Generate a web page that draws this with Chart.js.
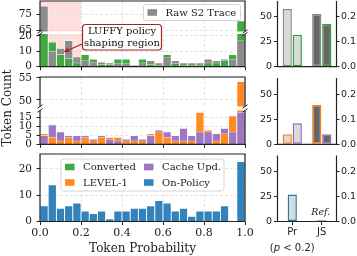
<!DOCTYPE html>
<html>
<head>
<meta charset="utf-8">
<script src="https://cdn.jsdelivr.net/npm/chart.js@4.4.1/dist/chart.umd.min.js"></script>
<style>
  html, body { margin: 0; padding: 0; background: #fff; }
  #wrap { position: relative; width: 357px; height: 256px; overflow: hidden; }
  #wrap canvas { position: absolute; left: 0; top: 0; }
  .ylab { position: absolute; z-index: 10; font: 10.5px "DejaVu Serif"; line-height: 12px; color: #222; text-align: right; white-space: nowrap; }
</style>
</head>
<body>
<div id="wrap"></div>
<script>
// ====== data (25 probability bins, width 0.04)
const BIN_WIDTH = 0.04;
const rawS2     = [80, 10, 12, 17, 6.5, 4, 3, 3, 2.5, 2, 2, 1, 2.5, 4, 2.5, 6, 4, 2.5, 2.5, 2.5, 5, 4, 5, 5, 17];
const converted = [26, 16, 8, 5.5, 2.5, 8, 5, 1.5, 1.5, 5, 5, 0.5, 5, 1.5, 1, 8, 2, 1, 1, 1, 2.5, 2.5, 4, 8, 71];
const level1    = [6, 4, 2, 4, 2, 4, 2, 4, 4, 4, 2, 2, 2, 6, 7, 4, 2, 2, 2, 18, 8, 2, 6, 16, 54];
const cacheUpd  = [5, 11, 7, 5, 5, 5, 3, 5, 3, 2, 3, 5, 3, 5, 8, 7, 5, 9, 5, 7, 7, 6, 9, 7, 18];
const onPolicy  = [6, 14, 5, 6, 7, 4, 3, 4, 1, 4, 4, 5, 5, 6, 8, 7, 4, 5, 2, 4, 4, 4, 6, 0, 22.8];
const probTicks = [0, 0.2, 0.4, 0.6, 0.8, 1.0];
const midUpperTicks = [50, 55];
const shapingRegion = [0, 0.2];

// right-hand summary panels (left axis units; right axis = left / 250)
const statCategories = ["Pr", "JS"];
const statRawS2     = [58, 53];
const statConverted = [32, 43];
const statLevel1    = [10, 39];
const statCacheUpd  = [21, 10];
const statOnPolicy  = [27, 1.2];
const statTicks      = [0, 25, 50];
const statTicksRight = [0, 0.1, 0.2];
const STAT_RATIO = 250;
const STAT_MAX = 66;

// ====== style
const W = 357, H = 256;
const PLOT_L = 40, PLOT_R = 245;
const STAT_L = 277.5, STAT_R = 336.5;
const STAT_YW = 30;
const TICK_LEN = 3.5, Y_PAD = 4.5;
const INK = "#222222";
const GRID = "#dadada";
const SERIF = "DejaVu Serif";
const SANS = "DejaVu Sans";
const C = {
  gray: "#8c8c8c", green: "#41a941", orange: "#ff8a22",
  purple: "#9e77c3", blue: "#3282bb",
};
const statFill = ["#d9d9d9", "#666666"];

const binCenters = rawS2.map((_, i) => BIN_WIDTH * (i + 0.5));

// ====== plugins
// fix the size of an axis box so every panel lines up
const fitBox = (size) => (s) => {
  if (s.isHorizontal()) s.height = size; else s.width = size;
  s.paddingTop = s.paddingBottom = s.paddingLeft = s.paddingRight = 0;
};

const framePlugin = {
  id: "frame",
  afterDatasetsDraw(chart, _args, opts) {
    const { ctx, chartArea: a } = chart;
    const sides = opts.sides || "";
    ctx.save();
    ctx.strokeStyle = INK;
    ctx.lineWidth = 1.2;
    ctx.beginPath();
    if (sides.includes("t")) { ctx.moveTo(a.left - 0.6, a.top); ctx.lineTo(a.right + 0.6, a.top); }
    if (sides.includes("b")) { ctx.moveTo(a.left - 0.6, a.bottom); ctx.lineTo(a.right + 0.6, a.bottom); }
    if (sides.includes("l")) { ctx.moveTo(a.left, a.top); ctx.lineTo(a.left, a.bottom); }
    if (sides.includes("r")) { ctx.moveTo(a.right, a.top); ctx.lineTo(a.right, a.bottom); }
    ctx.stroke();
    // broken-axis marks
    const ys = [];
    if (opts.breakTop) ys.push(a.top);
    if (opts.breakBottom) ys.push(a.bottom);
    ctx.lineWidth = 1;
    ys.forEach((y) => [a.left, a.right].forEach((x) => {
      ctx.beginPath();
      ctx.moveTo(x - 2.5, y + 1.8);
      ctx.lineTo(x + 2.5, y - 1.8);
      ctx.stroke();
    }));
    ctx.restore();
  },
};

const spanPlugin = {
  id: "span",
  beforeDraw(chart, _args, opts) {
    if (!opts.on) return;
    const { ctx, chartArea: a, scales: { x } } = chart;
    const x0 = x.getPixelForValue(shapingRegion[0]);
    const x1 = x.getPixelForValue(shapingRegion[1]);
    ctx.save();
    ctx.fillStyle = "rgba(255,0,0,0.13)";
    ctx.fillRect(x0, a.top, x1 - x0, a.bottom - a.top);
    ctx.restore();
  },
};

function drawLegend(ctx, box, entries) {
  ctx.save();
  ctx.beginPath();
  ctx.roundRect(box.x, box.y, box.w, box.h, 2.5);
  ctx.fillStyle = "rgba(255,255,255,0.85)";
  ctx.fill();
  ctx.strokeStyle = "#cccccc";
  ctx.lineWidth = 0.8;
  ctx.stroke();
  ctx.font = `10px ${SERIF}`;
  ctx.textBaseline = "middle";
  ctx.textAlign = "left";
  entries.forEach((e) => {
    ctx.fillStyle = e.color;
    ctx.fillRect(e.x, e.y - 3.3, 9.5, 6.6);
    ctx.fillStyle = INK;
    ctx.fillText(e.label, e.x + 18, e.y + 0.5);
  });
  ctx.restore();
}

// overlapping bars: the taller bar of each bin behind, the shorter in front
function overlapSets(a, colA, b, colB) {
  const common = {
    grouped: false, categoryPercentage: 1, barPercentage: 1, clip: 0,
    borderColor: "rgba(255,255,255,0.6)", borderWidth: 0.8,
  };
  return [
    { ...common, order: 1,
      data: a.map((v, i) => ({ x: binCenters[i], y: Math.min(v, b[i]) })),
      backgroundColor: a.map((v, i) => (v >= b[i] ? colB : colA)) },
    { ...common, order: 2,
      data: a.map((v, i) => ({ x: binCenters[i], y: Math.max(v, b[i]) })),
      backgroundColor: a.map((v, i) => (v >= b[i] ? colA : colB)) },
  ];
}

const wrap = document.getElementById("wrap");
function makeCanvas() {
  const c = document.createElement("canvas");
  c.width = W; c.height = H;
  c.style.width = W + "px"; c.style.height = H + "px";
  wrap.appendChild(c);
  return c;
}

function leftChart(part) {
  const gridOpts = (ticks) => ({
    offset: false, color: GRID, lineWidth: 0.8, drawTicks: ticks,
    tickLength: TICK_LEN, tickColor: INK, tickWidth: 1,
  });
  const xh = part.xLabels ? H - part.bottom : 0;
  return new Chart(makeCanvas(), {
    type: "bar",
    data: { datasets: part.datasets },
    options: {
      responsive: false, animation: false, devicePixelRatio: 1,
      layout: { padding: { left: 0, right: W - PLOT_R, top: part.top, bottom: H - part.bottom - xh } },
      plugins: {
        legend: { display: false }, tooltip: { enabled: false },
        frame: { sides: part.sides, breakTop: !!part.breakTop, breakBottom: !!part.breakBottom },
        span: { on: !!part.span },
      },
      scales: {
        x: {
          type: "linear", min: 0, max: 1, offset: false,
          grid: gridOpts(!!part.xTicks),
          border: { display: false, dash: [3, 2] },
          ticks: {
            display: !!part.xLabels, padding: 2, color: INK, autoSkip: false, maxRotation: 0,
            font: { family: SERIF, size: 11 }, callback: (v) => Number(v).toFixed(1),
          },
          afterBuildTicks: (s) => { s.ticks = probTicks.map((value) => ({ value })); },
          afterFit: fitBox(xh),
        },
        y: {
          type: "linear", min: part.yMin, max: part.yMax,
          grid: gridOpts(true),
          border: { display: false, dash: [3, 2] },
          ticks: {
            display: !part.hideYLabels, padding: Y_PAD, color: INK, autoSkip: false,
            font: { family: SERIF, size: 10.5 }, callback: (v) => String(v),
          },
          afterBuildTicks: (s) => { s.ticks = part.yTicks.map((value) => ({ value })); },
          afterFit: fitBox(PLOT_L),
        },
      },
    },
    plugins: [spanPlugin, framePlugin].concat(part.notes ? [{ id: "notes", afterDraw: (c) => part.notes(c.ctx, c) }] : []),
  });
}

function statChart(part) {
  const tickGrid = (show) => ({
    display: true, drawOnChartArea: false, drawTicks: show, offset: false,
    tickLength: TICK_LEN, tickColor: INK, tickWidth: 1, color: INK,
  });
  const xh = part.xLabels ? H - part.bottom : 0;
  return new Chart(makeCanvas(), {
    type: "bar",
    data: { labels: statCategories, datasets: part.datasets },
    options: {
      responsive: false, animation: false, devicePixelRatio: 1,
      layout: { padding: { left: STAT_L - STAT_YW, right: 0, top: part.top, bottom: H - part.bottom - xh } },
      plugins: { legend: { display: false }, tooltip: { enabled: false }, frame: { sides: "lrb" } },
      scales: {
        x: {
          type: "category", offset: true,
          grid: tickGrid(!!part.xLabels),
          border: { display: false },
          ticks: { display: !!part.xLabels, padding: 1.5, color: INK, font: { family: SANS, size: 10 } },
          afterFit: fitBox(xh),
        },
        y: {
          position: "left", min: 0, max: STAT_MAX,
          grid: tickGrid(true), border: { display: false },
          ticks: { padding: 2, color: INK, font: { family: SANS, size: 9.5 } },
          afterBuildTicks: (s) => { s.ticks = statTicks.map((value) => ({ value })); },
          afterFit: fitBox(STAT_YW),
        },
        y2: {
          position: "right", min: 0, max: STAT_MAX / STAT_RATIO,
          grid: { ...tickGrid(true), tickLength: 3 }, border: { display: false },
          ticks: { padding: 1.5, color: INK, font: { family: SANS, size: 9.5 }, callback: (v) => Number(v).toFixed(1) },
          afterBuildTicks: (s) => { s.ticks = statTicksRight.map((value) => ({ value })); },
          afterFit: fitBox(W - STAT_R),
        },
      },
    },
    plugins: [framePlugin].concat(part.notes ? [{ id: "notes", afterDraw: (c) => part.notes(c.ctx, c) }] : []),
  });
}

const statBar = (data, edge, pct) => ({
  data, yAxisID: "y", backgroundColor: statFill, borderColor: edge,
  borderWidth: 1.5, borderSkipped: false, categoryPercentage: pct, barPercentage: 0.92,
});

// ====== top panel: Raw S2 trace vs converted (broken axis)
leftChart({
  top: 1, bottom: 31.5, yMin: 64.5, yMax: 83, yTicks: [65, 75],
  sides: "tlr", breakBottom: true, span: true, datasets: overlapSets(rawS2, C.gray, converted, C.green),
  notes: (ctx) => drawLegend(ctx, { x: 143.5, y: 4.5, w: 97, h: 16 },
    [{ label: "Raw S2 Trace", color: C.gray, x: 147.5, y: 12.5 }]),
});
leftChart({
  top: 34, bottom: 66.7, yMin: 0, yMax: 21.3, yTicks: [0, 10, 20],
  sides: "lrb", breakTop: true, span: true, xTicks: true, datasets: overlapSets(rawS2, C.gray, converted, C.green),
  notes: (ctx) => {
    ctx.save();
    // arrow to the shaping region
    const red = "#a52424";
    ctx.strokeStyle = red; ctx.fillStyle = red; ctx.lineWidth = 1.1;
    ctx.beginPath(); ctx.moveTo(82, 44); ctx.lineTo(67.5, 50.5); ctx.stroke();
    const ang = Math.atan2(52 - 44, 63.5 - 82);
    ctx.beginPath();
    ctx.moveTo(63.5, 52);
    ctx.lineTo(63.5 - 5.5 * Math.cos(ang) - 2.6 * Math.sin(ang), 52 - 5.5 * Math.sin(ang) + 2.6 * Math.cos(ang));
    ctx.lineTo(63.5 - 5.5 * Math.cos(ang) + 2.6 * Math.sin(ang), 52 - 5.5 * Math.sin(ang) - 2.6 * Math.cos(ang));
    ctx.closePath(); ctx.fill();
    // text box
    ctx.beginPath(); ctx.roundRect(82.5, 24.5, 79, 25.5, 3);
    ctx.fillStyle = "#ffffff"; ctx.fill();
    ctx.strokeStyle = red; ctx.lineWidth = 1.2; ctx.stroke();
    ctx.fillStyle = "#111111";
    ctx.font = `10px ${SERIF}`; ctx.textAlign = "center"; ctx.textBaseline = "middle";
    ctx.fillText("LUFFY policy", 122, 31.5);
    ctx.fillText("shaping region", 122, 43);
    ctx.restore();
  },
});

// ====== middle panel: LEVEL-1 vs cache updates (broken axis)
const midUpper = leftChart({
  top: 77, bottom: 106.5, yMin: 48.5, yMax: 55, yTicks: midUpperTicks, hideYLabels: true,
  sides: "tlr", breakBottom: true, datasets: overlapSets(level1, C.orange, cacheUpd, C.purple),
});
leftChart({
  top: 110.5, bottom: 144.3, yMin: 0, yMax: 19, yTicks: [0, 5, 10, 15],
  sides: "lrb", breakTop: true, xTicks: true, datasets: overlapSets(level1, C.orange, cacheUpd, C.purple),
});

// ====== bottom panel: on-policy
leftChart({
  top: 154, bottom: 221.5, yMin: 0, yMax: 25.7, yTicks: [0, 10, 20],
  sides: "tlrb", xTicks: true, xLabels: true,
  datasets: [{
    data: onPolicy.map((y, i) => ({ x: binCenters[i], y })), backgroundColor: C.blue,
    borderColor: "rgba(255,255,255,0.6)", borderWidth: 0.8, categoryPercentage: 1, barPercentage: 1, clip: 0,
  }],
  notes: (ctx) => {
    drawLegend(ctx, { x: 61, y: 159, w: 163, h: 32 }, [
      { label: "Converted", color: C.green, x: 65, y: 167 },
      { label: "LEVEL-1", color: C.orange, x: 65, y: 182.5 },
      { label: "Cache Upd.", color: C.purple, x: 144, y: 167 },
      { label: "On-Policy", color: C.blue, x: 144, y: 182.5 },
    ]);
    ctx.save();
    ctx.fillStyle = INK;
    ctx.font = `12px ${SERIF}`;
    ctx.textAlign = "center"; ctx.textBaseline = "middle";
    ctx.fillText("Token Probability", (PLOT_L + PLOT_R) / 2, 248.5);
    ctx.translate(7.5, 108);
    ctx.rotate(-Math.PI / 2);
    ctx.fillText("Token Count", 0, 0);
    ctx.restore();
  },
});

// ====== right summary panels
statChart({
  top: 1, bottom: 66.7,
  datasets: [statBar(statRawS2, "#8a8a8a", 0.68), statBar(statConverted, "#2ca02c", 0.68)],
});
statChart({
  top: 78, bottom: 144.3,
  datasets: [statBar(statLevel1, "#ff7f0e", 0.68), statBar(statCacheUpd, "#9467bd", 0.68)],
});
statChart({
  top: 155.5, bottom: 221.5, xLabels: true,
  datasets: [statBar(statOnPolicy, "#1f77b4", 0.34)],
  notes: (ctx, chart) => {
    const x = chart.scales.x;
    ctx.save();
    ctx.fillStyle = INK;
    ctx.textBaseline = "middle";
    ctx.textAlign = "center";
    ctx.font = `italic 9.5px ${SERIF}`;
    ctx.fillText("Ref.", x.getPixelForValue(1) - 1, 212.5);
    // "(p < 0.2)" with italic p
    const parts = [["(", `10px ${SANS}`], ["p", `italic 10px ${SANS}`], [" < 0.2)", `10px ${SANS}`]];
    const widths = parts.map(([t, f]) => { ctx.font = f; return ctx.measureText(t).width; });
    let cx = x.getPixelForValue(0) - widths.reduce((s, w) => s + w, 0) / 2;
    ctx.textAlign = "left";
    parts.forEach(([t, f], i) => { ctx.font = f; ctx.fillText(t, cx, 248.5); cx += widths[i]; });
    ctx.restore();
  },
});

// tick labels of the middle panel's upper part, as text placed on top of
// every canvas at the pixels given by that part's own y scale
const midScale = midUpper.scales.y;
midUpperTicks.forEach((v) => {
  const el = document.createElement("div");
  el.className = "ylab";
  el.textContent = String(v);
  el.style.right = (W - (PLOT_L - TICK_LEN - Y_PAD)) + "px";
  el.style.top = (midScale.getPixelForValue(v) - 6) + "px";
  wrap.appendChild(el);
});
</script>
</body>
</html>
